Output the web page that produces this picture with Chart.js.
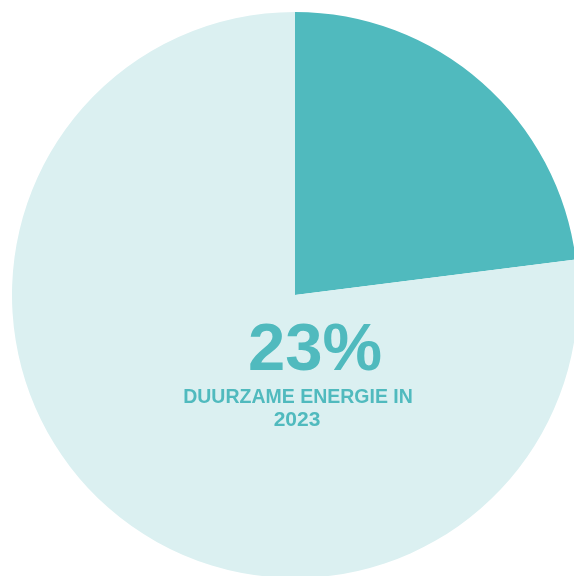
<!DOCTYPE html>
<html>
<head>
<meta charset="utf-8">
<script src="https://cdn.jsdelivr.net/npm/chart.js@4/dist/chart.umd.min.js"></script>
<style>
html,body{margin:0;padding:0;background:#fff;overflow:hidden;width:574px;height:576px;}
#wrap{position:absolute;left:0;top:0;width:590px;height:590px;}
</style>
</head>
<body>
<div id="wrap"><canvas id="c" width="590" height="590"></canvas></div>
<script>
const categories = ["Duurzame energie", "Overige energie"];
const values = [23, 77];
const colors = ["#50BABE", "#DBF0F1"];
const headline = "23%";
const subLines = ["DUURZAME ENERGIE IN", "2023"];

const centerText = {
  id: "centerText",
  afterDraw(chart) {
    const ctx = chart.ctx;
    ctx.save();
    ctx.fillStyle = "#50BABE";
    ctx.textBaseline = "alphabetic";
    ctx.textAlign = "left";
    ctx.font = "bold 67px 'Liberation Sans', Arial, sans-serif";
    ctx.fillText(headline, 248, 370);
    ctx.textAlign = "center";
    ctx.font = "bold 19.5px 'Liberation Sans', Arial, sans-serif";
    ctx.fillText(subLines[0], 298, 403);
    ctx.font = "bold 21px 'Liberation Sans', Arial, sans-serif";
    ctx.fillText(subLines[1], 297, 426);
    ctx.restore();
  }
};

new Chart(document.getElementById("c"), {
  type: "pie",
  data: {
    labels: categories,
    datasets: [{ data: values, backgroundColor: colors, borderWidth: 0 }]
  },
  options: {
    responsive: false,
    animation: false,
    layout: { padding: 12 },
    plugins: { legend: { display: false }, tooltip: { enabled: false } }
  },
  plugins: [centerText]
});
</script>
</body>
</html>
